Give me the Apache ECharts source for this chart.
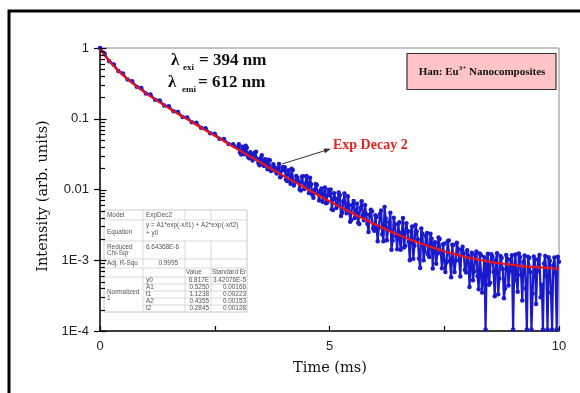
<!DOCTYPE html>
<html><head><meta charset="utf-8">
<script src="https://cdn.jsdelivr.net/npm/echarts@6/dist/echarts.min.js"></script>
<style>html,body{margin:0;padding:0;background:#fff}#c{width:580px;height:393px}</style>
</head><body><div id="c"></div>
<script>
// ---- data ----
const decayTime = [
0,0.1,0.2,0.3,0.4,0.5,0.6,0.7,0.8,0.9,1.0,1.1,1.2,1.3,1.4,1.5,1.6,1.7,1.8,1.9,2.0,2.1,2.2,2.3,2.4,2.5,2.6,2.7,2.8,2.9,
3.000,3.025,3.050,3.075,3.100,3.125,3.150,3.175,3.200,3.225,3.250,3.275,3.300,3.325,3.350,3.375,3.400,3.425,3.450,3.475,
3.500,3.525,3.550,3.575,3.600,3.625,3.650,3.675,3.700,3.725,3.750,3.775,3.800,3.825,3.850,3.875,3.900,3.925,3.950,3.975,
4.000,4.025,4.050,4.075,4.100,4.125,4.150,4.175,4.200,4.225,4.250,4.275,4.300,4.325,4.350,4.375,4.400,4.425,4.450,4.475,
4.500,4.525,4.550,4.575,4.600,4.625,4.650,4.675,4.700,4.725,4.750,4.775,4.800,4.825,4.850,4.875,4.900,4.925,4.950,4.975,
5.000,5.025,5.050,5.075,5.100,5.125,5.150,5.175,5.200,5.225,5.250,5.275,5.300,5.325,5.350,5.375,5.400,5.425,5.450,5.475,
5.500,5.525,5.550,5.575,5.600,5.625,5.650,5.675,5.700,5.725,5.750,5.775,5.800,5.825,5.850,5.875,5.900,5.925,5.950,5.975,
6.000,6.025,6.050,6.075,6.100,6.125,6.150,6.175,6.200,6.225,6.250,6.275,6.300,6.325,6.350,6.375,6.400,6.425,6.450,6.475,
6.500,6.525,6.550,6.575,6.600,6.625,6.650,6.675,6.700,6.725,6.750,6.775,6.800,6.825,6.850,6.875,6.900,6.925,6.950,6.975,
7.000,7.025,7.050,7.075,7.100,7.125,7.150,7.175,7.200,7.225,7.250,7.275,7.300,7.325,7.350,7.375,7.400,7.425,7.450,7.475,
7.500,7.525,7.550,7.575,7.600,7.625,7.650,7.675,7.700,7.725,7.750,7.775,7.800,7.825,7.850,7.875,7.900,7.925,7.950,7.975,
8.000,8.025,8.050,8.075,8.100,8.125,8.150,8.175,8.200,8.225,8.250,8.275,8.300,8.325,8.350,8.375,8.400,8.425,8.450,8.475,
8.500,8.525,8.550,8.575,8.600,8.625,8.650,8.675,8.700,8.725,8.750,8.775,8.800,8.825,8.850,8.875,8.900,8.925,8.950,8.975,
9.000,9.025,9.050,9.075,9.100,9.125,9.150,9.175,9.200,9.225,9.250,9.275,9.300,9.325,9.350,9.375,9.400,9.425,9.450,9.475,
9.500,9.525,9.550,9.575,9.600,9.625,9.650,9.675,9.700,9.725,9.750,9.775,9.800,9.825,9.850,9.875,9.900,9.925,9.950,9.975,
10.000];
const decayIntensity = [
1.00,0.83,0.650,0.585,0.472,0.435,0.358,0.338,0.283,0.271,0.227,0.220,0.186,0.181,0.154,0.150,0.128,0.125,0.106,0.104,
0.0890,0.0875,0.0745,0.0732,0.0622,0.0615,0.0522,0.0516,0.0438,0.0435,
0.0390,0.0436,0.0337,0.0312,0.0401,0.0366,0.0316,0.0415,0.0390,0.0290,0.0277,0.0336,0.0315,0.0257,0.0278,0.0334,0.0341,0.0269,0.0236,0.0221,
0.0276,0.0306,0.0225,0.0214,0.0268,0.0237,0.0194,0.0264,0.0259,0.0183,0.0193,0.0227,0.0207,0.0181,0.0168,0.0199,0.0230,0.0149,0.0156,0.0207,
0.0187,0.0207,0.0139,0.0132,0.0187,0.0162,0.0121,0.0196,0.0188,0.0114,0.0127,0.0155,0.0146,0.0131,0.0100,0.0097,0.0151,0.0154,0.0102,0.0105,
0.0155,0.0121,0.0089,0.0146,0.0119,0.0084,0.00764,0.0098,0.0120,0.0116,0.0088,0.0070,0.00949,0.0103,0.00671,0.0087,0.0107,0.0064,0.00653,0.0098,
0.00831,0.0100,0.00525,0.00514,0.00883,0.00744,0.00547,0.00596,0.00907,0.00832,0.00423,0.00470,0.00679,0.00879,0.00523,0.00462,0.00805,0.00593,0.00349,0.00371,
0.00607,0.00687,0.00395,0.00463,0.00628,0.00340,0.00325,0.00552,0.00682,0.00433,0.00367,0.00606,0.00446,0.00329,0.00251,0.00440,0.00518,0.00492,0.00282,0.00261,
0.00432,0.00410,0.00186,0.00290,0.00452,0.00503,0.00233,0.00186,0.00564,0.00389,0.00192,0.00269,0.00345,0.00470,0.00141,0.00190,0.00398,0.00319,0.00217,0.00143,
0.00328,0.00345,0.00141,0.00245,0.00396,0.00151,0.00160,0.00334,0.00258,0.00183,0.00100,0.00256,0.00301,0.00105,0.00160,0.00315,0.00255,0.00197,0.00106,0.00078,
0.00282,0.00237,0.00100,0.00132,0.00221,0.00243,0.00120,0.00111,0.00236,0.00202,0.000765,0.00167,0.00180,0.00089,0.00125,0.00210,0.00200,0.00128,0.00077,0.00167,
0.00171,0.00068,0.00094,0.00186,0.00190,0.00098,0.000576,0.00165,0.00164,0.00068,0.00098,0.00177,0.00144,0.00101,0.00059,0.00140,0.00155,0.00125,0.00073,0.00067,
0.00138,0.00115,0.00042,0.00085,0.00128,0.00052,0.00070,0.00119,0.00133,0.00060,0.00039,0.00125,0.00118,0.00035,0.00062,0.00110,0.000105,0.00090,0.00124,0.00045,
0.00048,0.00122,0.00112,0.00068,0.00031,0.00100,0.00126,0.00033,0.00055,0.00115,0.00108,0.00075,0.00029,0.00040,0.00119,0.00105,0.00044,0.00070,0.00102,0.00118,
0.000105,0.00080,0.00121,0.00052,0.00036,0.00125,0.00110,0.00062,0.00027,0.00095,0.00117,0.00040,0.000105,0.00112,0.00108,0.00068,0.000105,0.00034,0.00113,0.00101,
0.00024,0.00070,0.00104,0.00119,0.00030,0.00045,0.000105,0.00090,0.00115,0.00060,0.000105,0.00110,0.00098,0.00035,0.000105,0.00085,0.00109,0.00065,0.000105,0.00112,
0.00095];
const fitTime = [0,0.1,0.2,0.3,0.4,0.5,0.6,0.7,0.8,0.9,1.0,1.25,1.5,1.75,2.0,2.25,2.5,2.75,3.0,3.25,3.5,3.75,4.0,4.25,4.5,4.75,5.0,5.25,5.5,5.75,6.0,6.25,6.5,6.75,7.0,7.25,7.5,7.75,8.0,8.25,8.5,8.75,9.0,9.25,9.5,9.75,10];
const fitIntensity = [0.961,0.787,0.656,0.555,0.475,0.412,0.361,0.320,0.285,0.255,0.229,0.179,0.141,0.112,0.0898,0.0717,0.0575,0.0461,0.0370,0.0298,0.0240,0.0193,0.0156,0.0126,0.0103,0.00834,0.00681,0.00559,0.00461,0.00382,0.00320,0.00270,0.00229,0.00197,0.00171,0.00151,0.00134,0.00121,0.00110,0.00102,0.00095,0.00090,0.00086,0.00082,0.00080,0.00078,0.00075];
const yTickLabels = ['1E-4','1E-3','0.01','0.1','1'];   // decades -4 .. 0
const xTickLabels = {0:'0', 5:'5', 10:'10'};
const tableParams = ['y0','A1','t1','A2','t2'];
const tableValues = ['6.817E','0.5250','1.1238','0.4355','0.2845'];
const tableErrors = ['3.42076E-5','0.00166','0.00223','0.00153','0.00128'];

// ---- build ----
const decayData = decayTime.map((t,i)=>[t, decayIntensity[i]]);
const fitData = fitTime.map((t,i)=>[t, fitIntensity[i]]);
const majorTicks = [], minorTicks = [];
for (let e=-4; e<=0; e++) {
  majorTicks.push(Math.pow(10,e));
  if (e<0) for (let m=2; m<=9; m++) minorTicks.push(m*Math.pow(10,e));
}

const BLUE = '#1a1acc';
const chart = echarts.init(document.getElementById('c'));
chart.setOption({
  animation:false,
  backgroundColor:'#fff',
  grid:{left:100, right:21, top:48, bottom:62, show:true, borderColor:'#8a8a8a', borderWidth:1, backgroundColor:'transparent'},
  xAxis:{type:'value', min:0, max:10, interval:2.5,
    axisLine:{lineStyle:{color:'#111', width:1.5}},
    axisTick:{inside:true, length:5, lineStyle:{color:'#000', width:1.2}},
    axisLabel:{margin:9, color:'#222', fontSize:13, fontFamily:'"Liberation Sans"',
      formatter:v=>xTickLabels[v]!==undefined?xTickLabels[v]:''},
    splitLine:{show:false}},
  yAxis:{type:'log', logBase:10, min:1e-4, max:1,
    axisLine:{show:true, lineStyle:{color:'#111', width:1.5}},
    axisTick:{show:true, inside:false, length:6, lineStyle:{color:'#000', width:1.2}},
    axisLabel:{margin:11, color:'#222', fontSize:13, fontFamily:'"Liberation Sans"',
      formatter:v=>{const k=Math.round(Math.log10(v))+4; return yTickLabels[k]||'';}},
    splitLine:{show:false}},
  series:[
    {type:'line', data:decayData, z:2, symbol:'circle', symbolSize:4.5, showSymbol:true,
      lineStyle:{color:BLUE, width:2.2}, itemStyle:{color:BLUE}, clip:true},
    {type:'line', data:fitData, z:3, smooth:true, symbol:'none',
      lineStyle:{color:'#e8141c', width:2.2}, clip:true}
  ]
});

// ---- annotations (graphic), set once after the axes exist ----
const G = [];
function txt(x, y, text, font, fill, align, valign) {
  const o = {type:'text', x:x, y:y, z:100, silent:true,
    style:{text:text, font:font, fill:fill||'#111',
      align:align||'left', verticalAlign:valign||'middle',
      textAlign:align||'left', textVerticalAlign:valign||'middle'}};
  G.push(o); return o;
}
function ln(x1,y1,x2,y2,stroke,w){ G.push({type:'line', z:99, silent:true, shape:{x1:x1,y1:y1,x2:x2,y2:y2}, style:{stroke:stroke, lineWidth:w||1}}); }

// inner log ticks placed through the axis scale
const x0 = chart.convertToPixel({xAxisIndex:0}, 0);
majorTicks.forEach(v=>{ const y = Math.round(chart.convertToPixel({yAxisIndex:0}, v))+0.5; ln(x0, y, x0+6.5, y, '#000', 1.2); });
minorTicks.forEach(v=>{ const y = Math.round(chart.convertToPixel({yAxisIndex:0}, v))+0.5; ln(x0, y, x0+5, y, '#000', 1.2); });

// outer frame
G.push({type:'rect', z:100, silent:true, shape:{x:9, y:11, width:640, height:440}, style:{fill:'none', stroke:'#000', lineWidth:3}});

// lambda annotations
const LF = 'bold 17px "Liberation Serif"';
txt(171, 61, 'λ', LF);
txt(183, 68, 'exi', 'bold 9px "Liberation Serif"');
txt(199, 61, '= 394 nm', LF);
txt(168, 83, 'λ', LF);
txt(182, 90, 'emi', 'bold 9px "Liberation Serif"');
txt(198, 83, '= 612 nm', LF);

// legend box
G.push({type:'rect', z:98, silent:true, shape:{x:407, y:53.5, width:149, height:36}, style:{fill:'#ffc4c6', stroke:'#333', lineWidth:1.2}});
G.push({type:'text', x:482, y:72, z:100, silent:true, style:{
  text:'{a|Han: Eu}{s|3+}{a| Nanocomposites}', align:'center', verticalAlign:'middle', textAlign:'center', textVerticalAlign:'middle',
  rich:{a:{font:'bold 11px "Liberation Serif"', fill:'#111', lineHeight:14},
        s:{font:'bold 7px "Liberation Serif"', fill:'#111', lineHeight:9, verticalAlign:'top'}}}});

// Exp Decay 2 label + arrow
txt(333, 145, 'Exp Decay 2', 'bold 14px "Liberation Serif"', '#e8201c');
ln(282, 164, 325, 150.6, '#333', 1);
G.push({type:'polygon', z:99, silent:true, shape:{points:[[331,148.7],[325.0,153.2],[323.6,148.4]]}, style:{fill:'#333'}});

// axis titles
const yt = txt(43, 196, 'Intensity (arb. units)', '14.5px "DejaVu Serif"', '#111', 'center', 'middle');
yt.rotation = Math.PI/2;
txt(330, 368, 'Time (ms)', '14.5px "DejaVu Serif"', '#111', 'center', 'middle');

// fit table
const TL=104, TR=247, TT=210, TB=312;
const cx1=143, cx2=185, cx3=211;
G.push({type:'rect', z:97, silent:true, shape:{x:TL, y:TT, width:TR-TL, height:TB-TT}, style:{fill:'#fff', stroke:'#c8c8c8', lineWidth:1}});
const LC = '#d0d0d0';
[220,241,259,268,277].forEach(y=>ln(TL,y,TR,y,LC,0.8));
[284,291,298,305].forEach(y=>ln(cx1,y,TR,y,LC,0.8));
ln(cx1,TT,cx1,TB,LC,0.8);
[cx2,cx3].forEach(x=>{ ln(x,TT,x,220,LC,0.8); ln(x,241,x,TB,LC,0.8); });
const TF = '6.4px "Liberation Sans"', TC = '#555';
txt(107,215,'Model',TF,TC); txt(146,215,'ExpDec2',TF,TC);
txt(107,232,'Equation',TF,TC);
txt(146,225.5,'y = A1*exp(-x/t1) + A2*exp(-x/t2)',TF,TC); txt(146,233,'+ y0',TF,TC);
txt(107,247,'Reduced',TF,TC); txt(107,253.5,'Chi-Sqr',TF,TC); txt(146,247,'6.64368E-6',TF,TC);
txt(107,263.5,'Adj. R-Squ',TF,TC); txt(178,263.5,'0.9995',TF,TC,'right');
txt(186,272.5,'Value',TF,TC); txt(212,272.5,'Standard Er',TF,TC);
txt(107,292,'Normalized',TF,TC); txt(107,298.5,'1',TF,TC);
tableParams.forEach((p,i)=>{
  const y = 280.5 + i*7;
  txt(146,y,p,TF,TC);
  txt(209,y,tableValues[i],TF,TC,'right');
  txt(246,y,tableErrors[i],TF,TC,'right');
});

chart.setOption({graphic:{elements:G}});
</script></body></html>
